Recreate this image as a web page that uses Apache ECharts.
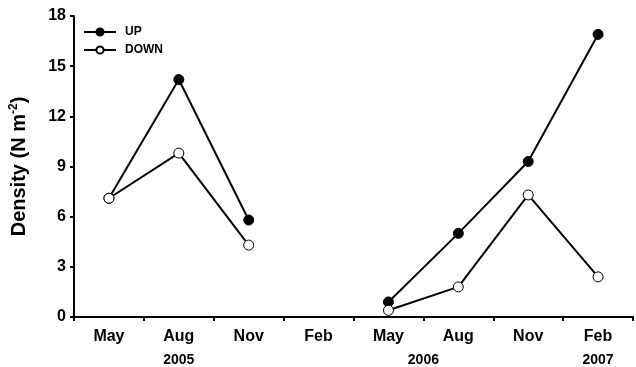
<!DOCTYPE html>
<html>
<head>
<meta charset="utf-8">
<script src="https://cdn.jsdelivr.net/npm/echarts@6/dist/echarts.min.js"></script>
<style>
  html, body { margin: 0; padding: 0; background: #fff; }
  #chart { width: 636px; height: 367px; }
</style>
</head>
<body>
<div id="chart"></div>
<script>
// Sampling months, May 2005 – Feb 2007 (no sample in Feb 2006)
const months = ['May', 'Aug', 'Nov', 'Feb', 'May', 'Aug', 'Nov', 'Feb'];
const upDensity = [7.1, 14.2, 5.8, null, 0.9, 5.0, 9.3, 16.9];
const downDensity = [7.1, 9.8, 4.3, null, 0.4, 1.8, 7.3, 2.4];
const yTicks = [0, 3, 6, 9, 12, 15, 18];
// Year captions and where they sit along the month axis (in half-month-slot units)
const years = ['2005', '2006', '2007'];
const yearSlots = [3, 10, 15];

const FONT = '"Liberation Sans", Arial, sans-serif';
const yearAt = {};
years.forEach((y, i) => { yearAt[yearSlots[i]] = y; });

const chart = echarts.init(document.getElementById('chart'), null, { renderer: 'canvas' });

const lineCommon = {
  type: 'line',
  xAxisIndex: 0,
  yAxisIndex: 0,
  connectNulls: false,
  symbol: 'circle',
  symbolSize: 10,
  lineStyle: { color: '#000', width: 2 },
  emphasis: { disabled: true },
  animation: false
};

chart.setOption({
  backgroundColor: '#fff',
  animation: false,
  textStyle: { fontFamily: FONT },
  grid: { left: 70, top: 16, width: 568, bottom: 49, containLabel: false },
  legend: {
    orient: 'vertical',
    left: 83,
    top: 26,
    padding: 0,
    itemWidth: 32,
    itemHeight: 9,
    itemGap: 6,
    textStyle: { fontFamily: FONT, fontSize: 12, fontWeight: 'bold', color: '#000', padding: [0, 0, 0, 4] },
    data: ['UP', 'DOWN']
  },
  xAxis: [
    {
      type: 'category',
      data: months,
      boundaryGap: true,
      position: 'bottom',
      axisLine: { lineStyle: { color: '#000', width: 2 } },
      axisTick: { show: true, length: 4, lineStyle: { color: '#000', width: 2 } },
      axisLabel: { color: '#000', fontFamily: FONT, fontSize: 16, fontWeight: 'bold', margin: 12, interval: 0 },
      splitLine: { show: false }
    },
    {
      type: 'value',
      min: 0,
      max: 16,
      interval: 1,
      position: 'bottom',
      axisLine: { show: false },
      axisTick: { show: false },
      splitLine: { show: false },
      axisLabel: {
        color: '#000', fontFamily: FONT, fontSize: 14, fontWeight: 'bold', margin: 36,
        formatter: v => yearAt[v] || ''
      }
    }
  ],
  yAxis: {
    type: 'value',
    min: yTicks[0],
    max: yTicks[yTicks.length - 1],
    interval: yTicks[1] - yTicks[0],
    name: '{a|Density (N m}{s|-2}{a|)}',
    nameLocation: 'middle',
    nameRotate: 90,
    nameGap: 44,
    nameTextStyle: {
      rich: {
        a: { fontFamily: FONT, fontSize: 20, fontWeight: 'bold', color: '#000', lineHeight: 22 },
        s: { fontFamily: FONT, fontSize: 12, fontWeight: 'bold', color: '#000', verticalAlign: 'top', lineHeight: 22 }
      }
    },
    axisLine: { show: true, lineStyle: { color: '#000', width: 2 } },
    axisTick: { show: true, length: 4, lineStyle: { color: '#000', width: 2 } },
    axisLabel: { color: '#000', fontFamily: FONT, fontSize: 16, fontWeight: 'bold', margin: 8 },
    splitLine: { show: false }
  },
  series: [
    Object.assign({}, lineCommon, {
      name: 'UP',
      data: upDensity,
      itemStyle: { color: '#000', borderColor: '#000', borderWidth: 1 }
    }),
    Object.assign({}, lineCommon, {
      name: 'DOWN',
      data: downDensity,
      itemStyle: { color: '#fff', borderColor: '#000', borderWidth: 1 }
    })
  ]
});
</script>
</body>
</html>
